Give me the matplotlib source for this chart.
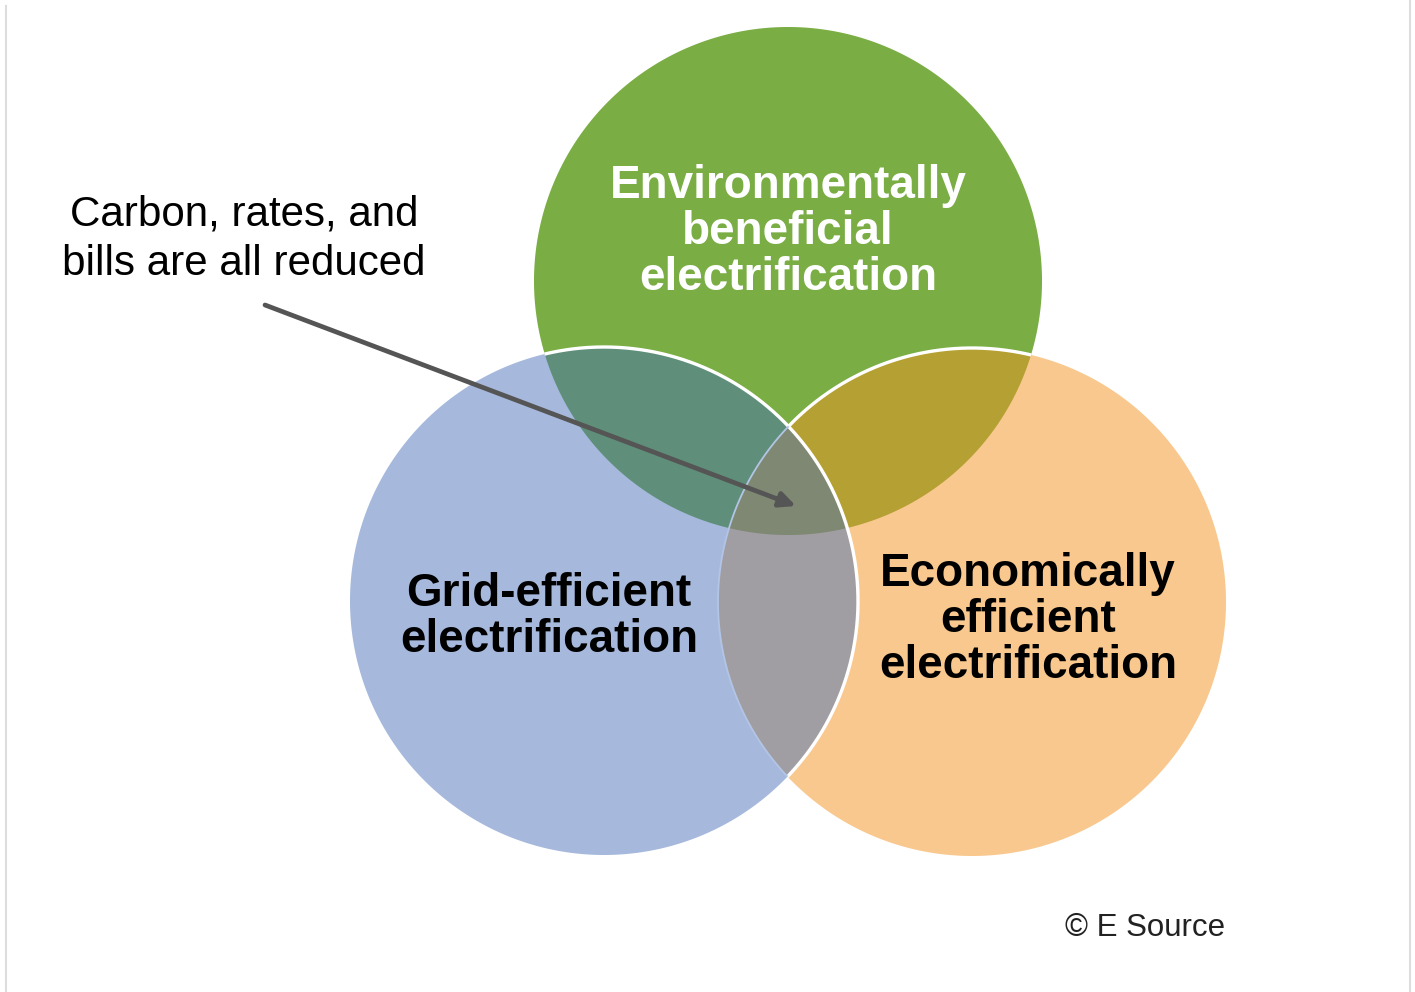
import numpy as np
import matplotlib
matplotlib.use("Agg")
import matplotlib.pyplot as plt
from matplotlib.patches import Polygon

# ---- data ----
set_names = ["Environmentally\nbeneficial\nelectrification",
             "Grid-efficient\nelectrification",
             "Economically\nefficient\nelectrification"]
set_keys = ["green", "blue", "orange"]
centers = {"green": (788, 281), "blue": (604, 601), "orange": (972, 602)}
radius = 254
annotation_text = "Carbon, rates, and\nbills are all reduced"
credit_text = "\u00a9 E Source"

# ---- styles ----
base_col = {"green": "#7aad44", "blue": "#a6b9dc", "orange": "#f9c88f"}
pair_col = {("green", "blue"): "#5f8f7a", ("green", "orange"): "#b5a033",
            ("blue", "orange"): "#a09ea2"}
triple_col = "#7f8872"

W, H = 1415, 992
fig = plt.figure(figsize=(W / 100, H / 100), dpi=100)
ax = fig.add_axes([0, 0, 1, 1])
ax.set_xlim(0, W)
ax.set_ylim(H, 0)
ax.set_aspect("equal")
ax.axis("off")

th = np.linspace(0, 2 * np.pi, 3000, endpoint=False)


def boundary(k):
    cx, cy = centers[k]
    return np.column_stack([cx + radius * np.cos(th), cy + radius * np.sin(th)])


def inside(pts, k, eps=0.5):
    cx, cy = centers[k]
    return np.hypot(pts[:, 0] - cx, pts[:, 1] - cy) <= radius + eps


def region(keys):
    pts = []
    for k in keys:
        b = boundary(k)
        m = np.ones(len(b), bool)
        for o in keys:
            if o != k:
                m &= inside(b, o)
        pts.append(b[m])
    p = np.vstack(pts)
    c = p.mean(axis=0)
    ang = np.arctan2(p[:, 1] - c[1], p[:, 0] - c[0])
    return p[np.argsort(ang)]


for k in set_keys:
    ax.add_patch(Polygon(boundary(k), closed=True, fc=base_col[k], ec="none", zorder=1))
for (a, b), col in pair_col.items():
    ax.add_patch(Polygon(region([a, b]), closed=True, fc=col, ec="none", zorder=2))
ax.add_patch(Polygon(region(set_keys), closed=True, fc=triple_col, ec="none", zorder=3))


def draw_arc(k, mask, color, lw):
    b = boundary(k).copy()
    b[~mask] = np.nan
    idx = np.argmin(mask) if not mask.all() else 0
    b = np.roll(b, -idx, axis=0)
    ax.plot(b[:, 0], b[:, 1], color=color, lw=lw, zorder=4, solid_capstyle="butt")


bb = boundary("blue")
draw_arc("blue", inside(bb, "green") | inside(bb, "orange"), "white", 2.4)
bo = boundary("orange")
draw_arc("orange", inside(bo, "green") & ~inside(bo, "blue"), "white", 2.4)
draw_arc("orange", inside(bo, "blue"), "#b3c5e6", 1.3)

# labels
tf = dict(family=["Liberation Sans", "DejaVu Sans"], fontweight="bold", fontsize=33,
          ha="center", va="center", linespacing=1.05, zorder=6)
ax.text(788, 232, set_names[0], color="white", **tf)
ax.text(549, 617, set_names[1], color="black", **tf)
ax.text(1028, 620, set_names[2], color="black", **tf)

ax.text(244, 239, annotation_text, family=["Liberation Sans", "DejaVu Sans"],
        fontsize=30.3, ha="center", va="center", linespacing=1.32, color="black")
ax.annotate("", xy=(796, 506), xytext=(265, 305),
            arrowprops=dict(arrowstyle="-|>,head_length=0.95,head_width=0.45",
                            color="#555555", lw=3.4, shrinkA=0, shrinkB=0), zorder=7)

ax.text(1225, 928, credit_text, family=["Liberation Sans", "DejaVu Sans"], fontsize=22.5,
        ha="right", va="center", color="#222222")

# frame lines
ax.plot([6, 6], [6, H], color="#dddddd", lw=1.5)
ax.plot([1410, 1410], [0, H], color="#dddddd", lw=1.5)

fig.savefig("out.png", dpi=100)
